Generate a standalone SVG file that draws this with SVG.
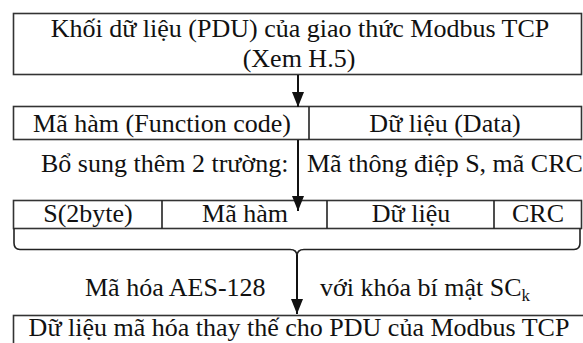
<svg xmlns="http://www.w3.org/2000/svg" width="583" height="343" viewBox="0 0 583 343">
  <style>
    .box { fill: #ffffff; stroke: #333333; stroke-width: 1.6; }
    .ln { fill: none; stroke: #222222; stroke-width: 1.6; }
    .wire { fill: none; stroke: #111111; stroke-width: 2; }
    .t { font-family: 'Liberation Serif', 'Times New Roman', serif; font-size: 26px; fill: #111111; }
    .c { text-anchor: middle; }
  </style>
  <defs>
    <marker id="head" viewBox="0 0 15 12" refX="15" refY="6" markerWidth="15" markerHeight="12" markerUnits="userSpaceOnUse" orient="auto">
      <path d="M0,0 L15,6 L0,12 Z" fill="#111111"/>
    </marker>
  </defs>

  <rect width="583" height="343" fill="#ffffff"/>

  <!-- source PDU block -->
  <g id="pdu">
    <rect class="box" x="13.5" y="13.5" width="568" height="61"/>
    <text class="t c" x="300" y="37">Khối dữ liệu (PDU) của giao thức Modbus TCP</text>
    <text class="t c" x="299" y="67">(Xem H.5)</text>
  </g>

  <!-- function code + data -->
  <g id="fields">
    <rect class="box" x="13.5" y="106.5" width="568" height="33"/>
    <line class="ln" x1="309" y1="106.5" x2="309" y2="139.5"/>
    <text class="t c" x="162" y="132">Mã hàm (Function code)</text>
    <text class="t c" x="445" y="132">Dữ liệu (Data)</text>
  </g>

  <!-- extended frame -->
  <g id="frame">
    <rect class="box" x="13.5" y="200.5" width="568" height="28"/>
    <line class="ln" x1="162" y1="200.5" x2="162" y2="228.5"/>
    <line class="ln" x1="327" y1="200.5" x2="327" y2="228.5"/>
    <line class="ln" x1="494" y1="200.5" x2="494" y2="228.5"/>
    <text class="t c" x="88" y="222">S(2byte)</text>
    <text class="t c" x="245" y="222">Mã hàm</text>
    <text class="t c" x="411" y="222">Dữ liệu</text>
    <text class="t c" x="538" y="222">CRC</text>
  </g>

  <!-- encrypted output -->
  <g id="cipher">
    <rect class="box" x="13.5" y="315.5" width="580" height="40"/>
    <text class="t c" x="299" y="336">Dữ liệu mã hóa thay thế cho PDU của Modbus TCP</text>
  </g>

  <!-- step labels -->
  <g id="labels">
    <text class="t" x="41" y="172">Bổ sung thêm 2 trường:</text>
    <text class="t" x="307" y="172">Mã thông điệp S, mã CRC</text>
    <text class="t" x="85" y="296">Mã hóa AES-128</text>
    <text class="t" x="320" y="296">với khóa bí mật SC<tspan font-size="17" dy="5">k</tspan></text>
  </g>

  <!-- connectors -->
  <g id="connectors">
    <line class="wire" x1="298" y1="75" x2="298" y2="107" marker-end="url(#head)"/>
    <line class="wire" x1="298" y1="140" x2="298" y2="211" marker-end="url(#head)"/>
    <path class="ln" d="M14,228.5 V243 Q14,249.5 20,249.5 H290 Q297,249.5 297,256 Q297,249.5 304,249.5 H574 Q580,249.5 580,243 V228.5"/>
    <line class="wire" x1="297" y1="255" x2="297" y2="314" marker-end="url(#head)"/>
  </g>
</svg>
